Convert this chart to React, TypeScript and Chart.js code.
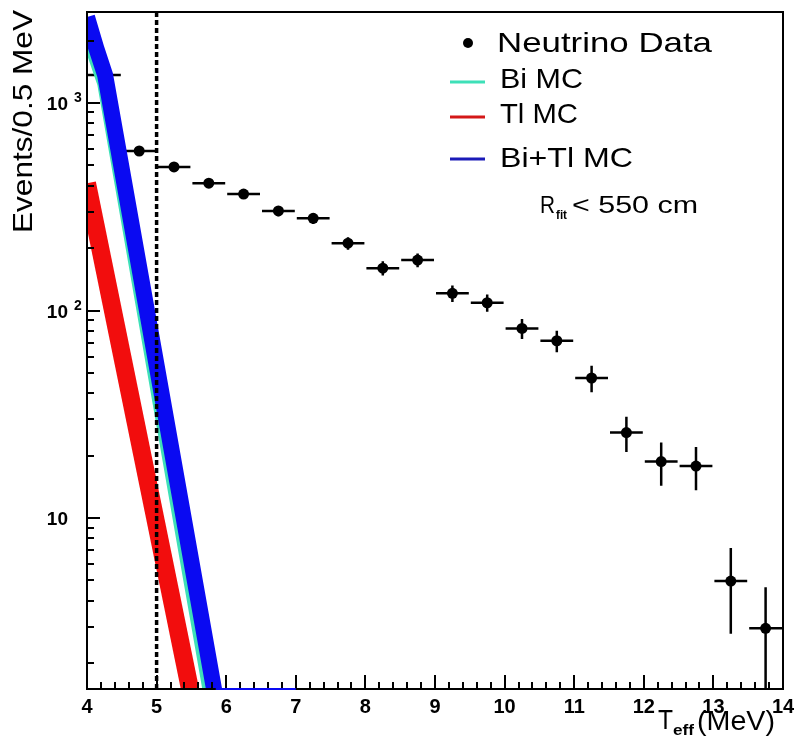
import React, { useEffect, useRef } from 'react';
import { Chart, registerables } from 'chart.js';

Chart.register(...registerables);

// ---------------- data ----------------
const BIN_CENTERS = [4.25, 4.75, 5.25, 5.75, 6.25, 6.75, 7.25, 7.75, 8.25, 8.75, 9.25, 9.75, 10.25, 10.75, 11.25, 11.75, 12.25, 12.75, 13.25, 13.75];
const COUNTS = [1365, 587, 492, 411, 364, 302, 278, 211, 160, 175, 121, 109, 82, 71.5, 47.3, 25.8, 18.7, 17.8, 4.97, 2.94];
const ERRORS = [37, 24, 22, 20, 19, 17, 17, 14.5, 12.7, 13.2, 11, 10.4, 9, 8.5, 6.9, 5, 4.4, 4.2, 2.2, 1.7];
const BIN_HALF = 0.25;

const TL_X = [4.0, 5.7];
const TL_Y = [410, 0.65];
const BI_X = [4.0, 4.26, 5.5, 6.0];
const BI_Y = [2250, 1250, 5.0, 0.55];
const BITL_X = [4.0, 4.13, 4.26, 6.0];
const BITL_Y = [2600, 1850, 1365, 0.7];
const EMPTY_X = [5.85, 7.0];
const EMPTY_Y = [1.5, 1.5];

const X_TICKS = [4, 5, 6, 7, 8, 9, 10, 11, 12, 13, 14];
const X_TICK_LABELS = ['4', '5', '6', '7', '8', '9', '10', '11', '12', '13', '14'];
const Y_DECADES = [10, 100, 1000];
const Y_LABEL_EXP = ['', '2', '3'];
const CUT_X = 5;
const X_MIN = 4;
const X_MAX = 14;
const Y_MIN = 1.5;
const Y_MAX = 2745;

const LEGEND_LABELS = ['Neutrino Data', 'Bi MC', 'Tl MC', 'Bi+Tl MC'];

const FONT = '"Liberation Sans", Arial, Helvetica, sans-serif';
const RED = '#f20d0d';
const BLUE = '#0a0af2';
const CYAN = '#3ee0b8';

const pts = (xs: number[], ys: number[]) => xs.map((x, i) => ({ x, y: ys[i] }));

function drawFit(ctx: CanvasRenderingContext2D, text: string, x: number, y: number, size: number, width?: number, weight = '') {
  ctx.font = `${weight} ${size}px ${FONT}`;
  const w = ctx.measureText(text).width;
  ctx.save();
  ctx.translate(x, y);
  if (width) ctx.scale(width / w, 1);
  ctx.fillText(text, 0, 0);
  ctx.restore();
}

const rootPlugin = {
  id: 'rootStyle',
  beforeDatasetsDraw(chart: any) {
    const { ctx, chartArea: a } = chart;
    const xs = chart.scales.x;
    const ys = chart.scales.y;
    ctx.save();
    ctx.beginPath();
    ctx.rect(a.left, a.top, a.right - a.left, a.bottom - a.top);
    ctx.clip();
    ctx.strokeStyle = '#000';
    ctx.lineWidth = 2.5;
    BIN_CENTERS.forEach((c, i) => {
      const px = xs.getPixelForValue(c);
      const py = ys.getPixelForValue(COUNTS[i]);
      const x0 = xs.getPixelForValue(c - BIN_HALF);
      const x1 = xs.getPixelForValue(c + BIN_HALF);
      const lo = COUNTS[i] - ERRORS[i];
      const yLo = lo > 0 ? ys.getPixelForValue(lo) : a.bottom + 10;
      const yHi = ys.getPixelForValue(COUNTS[i] + ERRORS[i]);
      ctx.beginPath();
      ctx.moveTo(x0 + 1, py);
      ctx.lineTo(x1 - 1, py);
      ctx.moveTo(px, yHi);
      ctx.lineTo(px, yLo);
      ctx.stroke();
    });
    ctx.restore();
  },
  beforeDatasetDraw(chart: any, args: any) {
    if (args.index !== 4) return;
    const { ctx, chartArea: a } = chart;
    const xs = chart.scales.x;
    const ys = chart.scales.y;
    ctx.save();
    ctx.strokeStyle = '#000';
    ctx.lineWidth = 2;
    ctx.strokeRect(a.left, a.top, a.right - a.left, a.bottom - a.top);
    // x ticks
    ctx.beginPath();
    for (let i = 0; i <= 50; i++) {
      const v = X_MIN + i * 0.2;
      const px = Math.round(xs.getPixelForValue(v));
      const len = i % 5 === 0 ? 14 : 7;
      ctx.moveTo(px, a.bottom);
      ctx.lineTo(px, a.bottom - len);
    }
    // y ticks
    for (let d = 1; d <= 1000; d *= 10) {
      for (let m = 1; m <= 9; m++) {
        const v = m * d;
        if (v < Y_MIN || v > Y_MAX) continue;
        const py = Math.round(ys.getPixelForValue(v));
        const len = m === 1 ? 13 : 7;
        ctx.moveTo(a.left, py);
        ctx.lineTo(a.left + len, py);
      }
    }
    ctx.stroke();
    // cut line
    ctx.lineWidth = 3.5;
    ctx.setLineDash([5, 3]);
    const cx = xs.getPixelForValue(CUT_X);
    ctx.beginPath();
    ctx.moveTo(cx, a.top);
    ctx.lineTo(cx, a.bottom);
    ctx.stroke();
    ctx.restore();
  },
  afterDraw(chart: any) {
    const { ctx, chartArea: a } = chart;
    const xs = chart.scales.x;
    const ys = chart.scales.y;
    ctx.save();
    ctx.fillStyle = '#000';
    ctx.textBaseline = 'alphabetic';
    // x tick labels
    ctx.textAlign = 'center';
    ctx.font = `bold 20px ${FONT}`;
    X_TICKS.forEach((v, i) => {
      ctx.fillText(X_TICK_LABELS[i], xs.getPixelForValue(v), a.bottom + 24);
    });
    // y tick labels
    Y_DECADES.forEach((v, i) => {
      const py = ys.getPixelForValue(v);
      ctx.textAlign = 'right';
      ctx.font = `bold 19px ${FONT}`;
      ctx.fillText('10', 68, py + 7);
      if (Y_LABEL_EXP[i]) {
        ctx.textAlign = 'left';
        ctx.font = `bold 14px ${FONT}`;
        ctx.fillText(Y_LABEL_EXP[i], 74, py - 1);
      }
    });
    ctx.textAlign = 'left';
    // y title
    ctx.save();
    ctx.translate(32, 233);
    ctx.rotate(-Math.PI / 2);
    drawFit(ctx, 'Events/0.5 MeV', 0, 0, 28, 223);
    ctx.restore();
    // x title
    drawFit(ctx, 'T', 658, 729, 28, 15);
    drawFit(ctx, 'eff', 673, 735, 14, 21, 'bold');
    drawFit(ctx, '(MeV)', 697, 730, 28, 78);
    // legend
    ctx.beginPath();
    ctx.arc(468, 43, 5, 0, Math.PI * 2);
    ctx.fill();
    drawFit(ctx, LEGEND_LABELS[0], 497, 52, 28, 215);
    ctx.lineWidth = 3;
    [[CYAN, 82], ['#d41818', 117], ['#1a1ab8', 159]].forEach(([col, yy]) => {
      ctx.strokeStyle = col as string;
      ctx.beginPath();
      ctx.moveTo(450, yy as number);
      ctx.lineTo(485, yy as number);
      ctx.stroke();
    });
    drawFit(ctx, LEGEND_LABELS[1], 500, 88, 28, 83);
    drawFit(ctx, LEGEND_LABELS[2], 500, 123, 28, 78);
    drawFit(ctx, LEGEND_LABELS[3], 500, 167, 28, 133);
    drawFit(ctx, 'R', 540, 213, 23, 15);
    drawFit(ctx, 'fit', 556, 219, 12, 11, 'bold');
    drawFit(ctx, '< 550 cm', 572, 213, 23, 126);
    ctx.restore();
  },
};

export default function App() {
  const ref = useRef<HTMLCanvasElement>(null);
  useEffect(() => {
    if (!ref.current) return;
    const band = (label: string, data: any[], color: string, width: number, order: number) => ({
      label,
      data,
      showLine: true,
      borderColor: color,
      backgroundColor: color,
      borderWidth: width,
      borderCapStyle: 'butt',
      borderJoinStyle: 'round',
      pointRadius: 0,
      tension: 0,
      fill: false,
      clip: 0,
      order,
    });
    const chart = new Chart(ref.current, {
      type: 'scatter',
      data: {
        datasets: [
          {
            label: LEGEND_LABELS[0],
            data: pts(BIN_CENTERS, COUNTS),
            pointRadius: 5.5,
            pointBackgroundColor: '#000',
            pointBorderWidth: 0,
            showLine: false,
            order: 10,
            clip: 0,
          } as any,
          band(LEGEND_LABELS[2], pts(TL_X, TL_Y), RED, 18, 5),
          band(LEGEND_LABELS[1], pts(BI_X, BI_Y), CYAN, 16, 4),
          band(LEGEND_LABELS[3], pts(BITL_X, BITL_Y), BLUE, 16, 3),
          { ...band('empty', pts(EMPTY_X, EMPTY_Y), BLUE, 2, -1), clip: false },
        ],
      },
      options: {
        responsive: false,
        animation: false,
        devicePixelRatio: 1,
        events: [],
        layout: { padding: { left: 87, right: 11, top: 12, bottom: 56 } },
        scales: {
          x: { type: 'linear', min: X_MIN, max: X_MAX, display: false },
          y: { type: 'logarithmic', min: Y_MIN, max: Y_MAX, display: false },
        },
        plugins: { legend: { display: false }, tooltip: { enabled: false } },
      },
      plugins: [rootPlugin],
    } as any);
    return () => chart.destroy();
  }, []);
  return (
    <div style={{ position: 'fixed', left: 0, top: 0, width: 794, height: 745, background: '#fff' }}>
      <canvas ref={ref} width={794} height={745} style={{ display: 'block', width: 794, height: 745 }} />
    </div>
  );
}
